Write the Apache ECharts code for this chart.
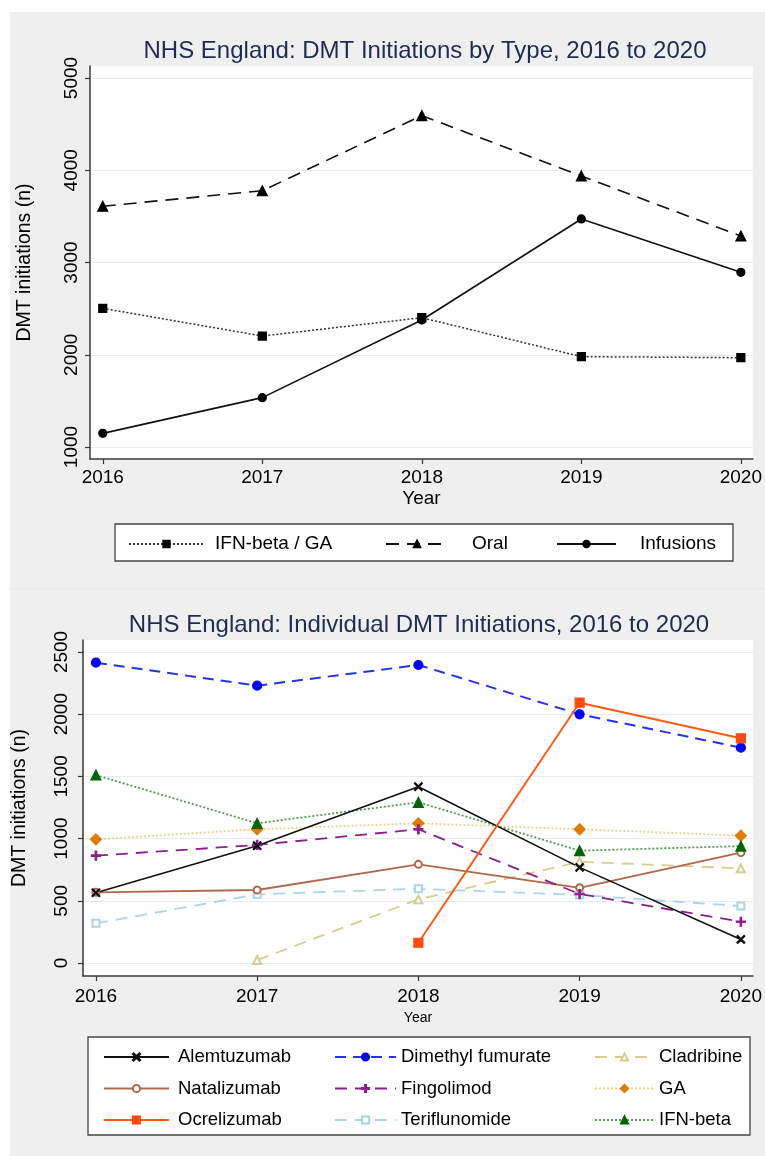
<!DOCTYPE html>
<html><head><meta charset="utf-8">
<script src="https://cdn.jsdelivr.net/npm/echarts@6/dist/echarts.min.js"></script>
<style>html,body{margin:0;padding:0;background:#fff}#c{width:765px;height:1156px}</style>
</head><body><div id="c"></div><script>
// ---- data ----
const years = [2016, 2017, 2018, 2019, 2020];
const topTicks = [1000, 2000, 3000, 4000, 5000];
const bottomTicks = [0, 500, 1000, 1500, 2000, 2500];

const ifnGA = [2503, 2203, 2402, 1979, 1968];
const oral = [3610, 3778, 4592, 3938, 3287];
const infusions = [1148, 1535, 2377, 3472, 2894];

const alemtuzumab = [565, 943, 1417, 769, 190];
const natalizumab = [568, 587, 793, 605, 887];
const ocrelizumab = [null, null, 163, 2092, 1806];
const dimethylFumurate = [2414, 2229, 2395, 1999, 1731];
const fingolimod = [863, 949, 1075, 555, 332];
const teriflunomide = [319, 552, 597, 547, 458];
const cladribine = [null, 24, 512, 814, 761];
const gaVals = [994, 1075, 1123, 1075, 1024];
const ifnBeta = [1511, 1123, 1292, 903, 940];

// ---- helpers ----
const FONT = 'Liberation Sans, Arial, sans-serif';
const TITLE_COLOR = '#1e2c52';
const AXIS_COLOR = '#3a3a3a';
const GRID_COLOR = '#e2ecf1';
const pts = arr => years.map((y, i) => [y, arr[i]]).filter(p => p[1] !== null);
const intFmt = v => String(Math.round(v));
const CROSS = 'path://M1,0 L5,4 L9,0 L10,1 L6,5 L10,9 L9,10 L5,6 L1,10 L0,9 L4,5 L0,1 Z';
const PLUS = 'path://M4.2,0 H5.8 V4.2 H10 V5.8 H5.8 V10 H4.2 V5.8 H0 V4.2 H4.2 Z';

function xAxisDef(gridIndex, labelMargin, nameGap, nameSize) {
  return {
    type: 'value', gridIndex, min: 2015.92, max: 2020.075,
    name: 'Year', nameLocation: 'middle', nameGap,
    nameTextStyle: { fontFamily: FONT, fontSize: nameSize, color: '#000' },
    axisLine: { show: true, onZero: false, lineStyle: { color: AXIS_COLOR, width: 1.5 } },
    axisTick: { show: true, length: 5, customValues: years, lineStyle: { color: AXIS_COLOR, width: 1.2 } },
    axisLabel: { customValues: years, formatter: intFmt, margin: labelMargin, fontFamily: FONT, fontSize: 19, color: '#000' },
    splitLine: { show: false }
  };
}
function yAxisDef(gridIndex, min, max, ticks, labelMargin, nameGap) {
  return {
    type: 'value', gridIndex, min, max,
    name: 'DMT initiations (n)', nameLocation: 'middle', nameGap, nameRotate: 90,
    nameTextStyle: { fontFamily: FONT, fontSize: 19.5, color: '#000' },
    axisLine: { show: true, onZero: false, lineStyle: { color: AXIS_COLOR, width: 1.5 } },
    axisTick: { show: true, length: 5, customValues: ticks, lineStyle: { color: AXIS_COLOR, width: 1.2 } },
    axisLabel: { customValues: ticks, formatter: intFmt, rotate: 90, margin: labelMargin, fontFamily: FONT, fontSize: 19, color: '#000' },
    splitLine: { show: true, lineStyle: { color: GRID_COLOR, width: 1.2 } }
  };
}
function lineSeries(name, arr, gi, color, type, width, symbol, size, fill) {
  return {
    type: 'line', name, data: pts(arr), xAxisIndex: gi, yAxisIndex: gi,
    symbol, symbolSize: size, showSymbol: true, animation: false,
    lineStyle: { color, type, width },
    itemStyle: { color: fill || color, borderColor: fill || color, borderWidth: 1.2 },
    emphasis: { disabled: true }
  };
}
function legendDef(names, left, top, itemWidth, padLeft, fontSize, orient, itemHeight) {
  return {
    show: true, orient: orient || 'horizontal', left, top, itemWidth, itemHeight: itemHeight || 9,
    itemGap: 11.5, selectedMode: false, data: names,
    textStyle: { fontFamily: FONT, fontSize, color: '#000', lineHeight: 20, padding: [0, 0, 0, padLeft] }
  };
}

const chart = echarts.init(document.getElementById('c'), null, { renderer: 'canvas' });
const option = {
  backgroundColor: '#ffffff',
  animation: false,
  graphic: [
    { type: 'rect', z: -100, shape: { x: 10, y: 12, width: 755, height: 577 }, style: { fill: '#efefef' } },
    { type: 'rect', z: -100, shape: { x: 10, y: 589, width: 755, height: 567 }, style: { fill: '#efefef' } },
    { type: 'rect', z: -99, shape: { x: 10, y: 588, width: 755, height: 1.5 }, style: { fill: '#e6ebee' } },
    { type: 'rect', z: 1, shape: { x: 115, y: 524, width: 618, height: 37 }, style: { fill: '#fff', stroke: '#444', lineWidth: 1.3 } },
    { type: 'rect', z: 1, shape: { x: 88, y: 1037, width: 662, height: 98 }, style: { fill: '#fff', stroke: '#444', lineWidth: 1.3 } }
  ],
  title: [
    { text: 'NHS England: DMT Initiations by Type, 2016 to 2020', left: 420, top: 34, textAlign: 'center',
      textStyle: { fontFamily: FONT, fontSize: 24, fontWeight: 'normal', color: TITLE_COLOR } },
    { text: 'NHS England: Individual DMT Initiations, 2016 to 2020', left: 414, top: 608, textAlign: 'center',
      textStyle: { fontFamily: FONT, fontSize: 24, fontWeight: 'normal', color: TITLE_COLOR } }
  ],
  grid: [
    { left: 90, right: 8, top: 66, height: 393, show: true, backgroundColor: '#fff', borderWidth: 0 },
    { left: 83, right: 8, top: 640, height: 336, show: true, backgroundColor: '#fff', borderWidth: 0 }
  ],
  xAxis: [ xAxisDef(0, 9, 30, 19), xAxisDef(1, 11, 35, 14) ],
  yAxis: [ yAxisDef(0, 870, 5130, topTicks, 9, 55), yAxisDef(1, -104, 2596, bottomTicks, 12, 53) ],
  legend: [
    legendDef(['IFN-beta / GA'], 123, 529, 75, 6, 19, 'horizontal', 8),
    legendDef(['Oral'], 380, 529, 62, 19, 19, 'horizontal', 8),
    legendDef(['Infusions'], 551, 529, 59, 19, 19, 'horizontal', 8),
    legendDef(['Alemtuzumab', 'Natalizumab', 'Ocrelizumab'], 98, 1042, 65, 4, 18.5, 'vertical'),
    legendDef(['Dimethyl fumurate', 'Fingolimod', 'Teriflunomide'], 329, 1042, 61, 0, 18.5, 'vertical'),
    legendDef(['Cladribine', 'GA', 'IFN-beta'], 589, 1042, 59, 0, 18.5, 'vertical')
  ],
  series: [
    lineSeries('IFN-beta / GA', ifnGA, 0, '#333', [2, 2], 1.5, 'rect', 8, '#000'),
    lineSeries('Oral', oral, 0, '#111', [13, 8], 1.6, 'triangle', 10, '#000'),
    lineSeries('Infusions', infusions, 0, '#111', 'solid', 1.6, 'circle', 8, '#000'),

    lineSeries('Cladribine', cladribine, 1, '#d6cc8f', [12, 8], 1.8, 'emptyTriangle', 8),
    lineSeries('Teriflunomide', teriflunomide, 1, '#a9d5e8', [12, 8], 1.8, 'emptyRect', 7),
    lineSeries('Natalizumab', natalizumab, 1, '#b1684a', 'solid', 1.8, 'emptyCircle', 7),
    lineSeries('GA', gaVals, 1, '#f2cf8e', [2, 2], 1.8, 'diamond', 11, '#e07b00'),
    lineSeries('IFN-beta', ifnBeta, 1, '#4f9d4f', [2, 2], 1.8, 'triangle', 10, '#006400'),
    lineSeries('Fingolimod', fingolimod, 1, '#8e1e8e', [12, 8], 1.8, PLUS, 9),
    lineSeries('Alemtuzumab', alemtuzumab, 1, '#111', 'solid', 1.6, CROSS, 8),
    lineSeries('Dimethyl fumurate', dimethylFumurate, 1, '#2233ee', [11, 7], 2, 'circle', 9, '#0000ff'),
    lineSeries('Ocrelizumab', ocrelizumab, 1, '#ff5a14', 'solid', 2, 'rect', 9, '#ff4a0a')
  ]
};
chart.setOption(option);
</script></body></html>
